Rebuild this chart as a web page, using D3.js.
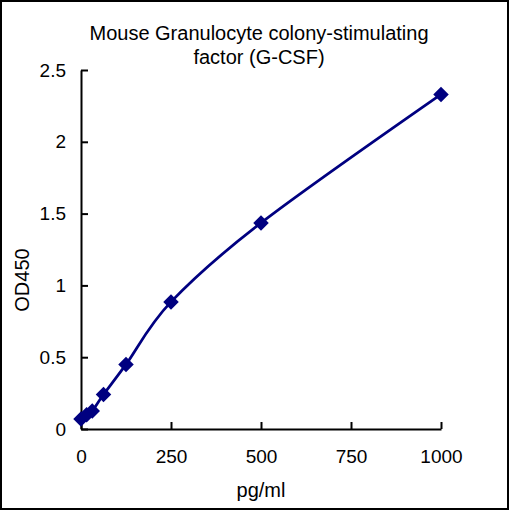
<!DOCTYPE html>
<html>
<head>
<meta charset="utf-8">
<script src="https://cdn.jsdelivr.net/npm/d3@7"></script>
<style>
  body { margin: 0; background: #fff; }
  text { font-family: "Liberation Sans", Arial, sans-serif; fill: #000; }
</style>
</head>
<body>
<svg id="chart" width="510" height="511"></svg>
<script>
var concentrations = [0, 15.6, 31.25, 62.5, 125, 250, 500, 1000];
var odValues = [0.07, 0.1, 0.125, 0.24, 0.45, 0.885, 1.435, 2.33];
var xTicks = [0, 250, 500, 750, 1000];
var yTicks = [0, 0.5, 1, 1.5, 2, 2.5];
var titleLines = ['Mouse Granulocyte colony-stimulating', 'factor (G-CSF)'];

(function() {
    'use strict';

    var svg = d3.select('#chart');
    var color = '#000080';
    var font = '"Liberation Sans", Arial, sans-serif';

    // outer frame
    svg.append('rect')
        .attr('x', 1).attr('y', 1)
        .attr('width', 507).attr('height', 508)
        .attr('fill', 'none').attr('stroke', '#000').attr('stroke-width', 2);

    var x = d3.scaleLinear().domain([0, 1000]).range([81, 441]);
    var y = d3.scaleLinear().domain([0, 2.5]).range([429, 70]);

    var points = concentrations.map((c, i) => ({ x: c, y: odValues[i] }));

    // axes, ticks pointing inward like the excel original
    var xAxis = d3.axisBottom(x).tickValues(xTicks).tickSizeInner(-7).tickSizeOuter(0).tickPadding(21)
        .tickFormat(d3.format('d'));
    var yAxis = d3.axisLeft(y).tickValues(yTicks).tickSizeInner(-7).tickSizeOuter(0).tickPadding(15)
        .tickFormat(d3.format('~g'));

    var gx = svg.append('g').attr('transform', 'translate(0,429)').call(xAxis);
    var gy = svg.append('g').attr('transform', 'translate(81,0)').call(yAxis);

    [gx, gy].forEach(g => {
        g.selectAll('path, line').attr('stroke', '#000').attr('stroke-width', 2);
        g.selectAll('text').attr('font-size', 19).attr('font-family', font);
    });

    // smooth curve
    var line = d3.line()
        .x(d => x(d.x))
        .y(d => y(d.y))
        .curve(d3.curveCardinal.tension(0));

    svg.append('path')
        .datum(points)
        .attr('d', line)
        .attr('fill', 'none')
        .attr('stroke', color)
        .attr('stroke-width', 2.75);

    // diamond markers
    var diamond = d3.symbol().type(d3.symbolSquare).size(120);
    svg.selectAll('.marker').data(points).enter()
        .append('path')
        .attr('class', 'marker')
        .attr('d', diamond)
        .attr('transform', d => 'translate(' + x(d.x) + ',' + y(d.y) + ') rotate(45)')
        .attr('fill', color);

    // title
    svg.append('text')
        .attr('x', 259).attr('y', 40)
        .attr('text-anchor', 'middle')
        .attr('font-size', 20)
        .selectAll('tspan').data(titleLines).enter()
        .append('tspan')
        .attr('x', 259)
        .attr('dy', (d, i) => i === 0 ? 0 : 24)
        .text(d => d);

    // axis labels
    svg.append('text')
        .attr('x', 261).attr('y', 497)
        .attr('text-anchor', 'middle')
        .attr('font-size', 20)
        .text('pg/ml');

    svg.append('text')
        .attr('transform', 'translate(29,280) rotate(-90)')
        .attr('text-anchor', 'middle')
        .attr('font-size', 20)
        .text('OD450');
})();
</script>
</body>
</html>
